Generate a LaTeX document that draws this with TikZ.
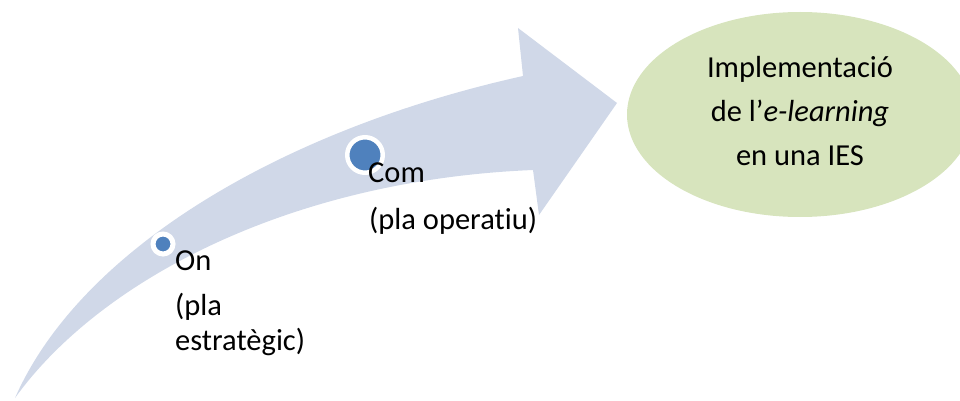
\documentclass[tikz,border=0pt]{standalone}
\usepackage{fontspec}
\setmainfont{Carlito}[Ligatures=NoCommon]
\usetikzlibrary{shapes.geometric}
\definecolor{bandblue}{HTML}{D0D8E8}
\definecolor{dotblue}{HTML}{4F81BD}
\definecolor{goalgreen}{HTML}{D7E4BD}
\tikzset{
  lbl/.style={anchor=base west, inner sep=0pt, font=\fontsize{30.5}{35}\selectfont},
  goallbl/.style={anchor=base, inner sep=0pt, font=\fontsize{30.5}{35}\selectfont},
  milestone/.style={circle, fill=dotblue, draw=white, inner sep=0pt},
}
\begin{document}
\begin{tikzpicture}[x=1pt,y=-1pt]
  \useasboundingbox (0,0) rectangle (960,401);
  \clip (0,0) rectangle (960,401);
  % curved arrow
  \fill[bandblue] (15,398) .. controls (80,250) and (280,130) .. (523,76)
    -- (518,28) -- (617,103) -- (539,215) -- (533,170)
    .. controls (290,180) and (100,280) .. (15,398) -- cycle;
  % goal
  \node[ellipse, fill=goalgreen, minimum width=346pt, minimum height=205pt, inner sep=0pt] (goal) at (800,114.5) {};
  \node[goallbl] (g1) at (800,78) {Implementació};
  \node[goallbl] (g2) at (800,121.5) {de l’\textit{e-learning}};
  \node[goallbl] (g3) at (800,165) {en una IES};
  % milestones
  \node[milestone, minimum size=20pt, line width=5pt] (m1) at (163,244) {};
  \node[milestone, minimum size=35.5pt, line width=4.5pt] (m2) at (365,155) {};
  \node[lbl] (on) at (175,270) {On};
  \node[lbl] (on1) at (175,315) {(pla};
  \node[lbl] (on2) at (175,350) {estratègic)};
  \node[lbl] (com) at (368,182) {Com};
  \node[lbl] (com1) at (369,229) {(pla operatiu)};
\end{tikzpicture}
\end{document}
